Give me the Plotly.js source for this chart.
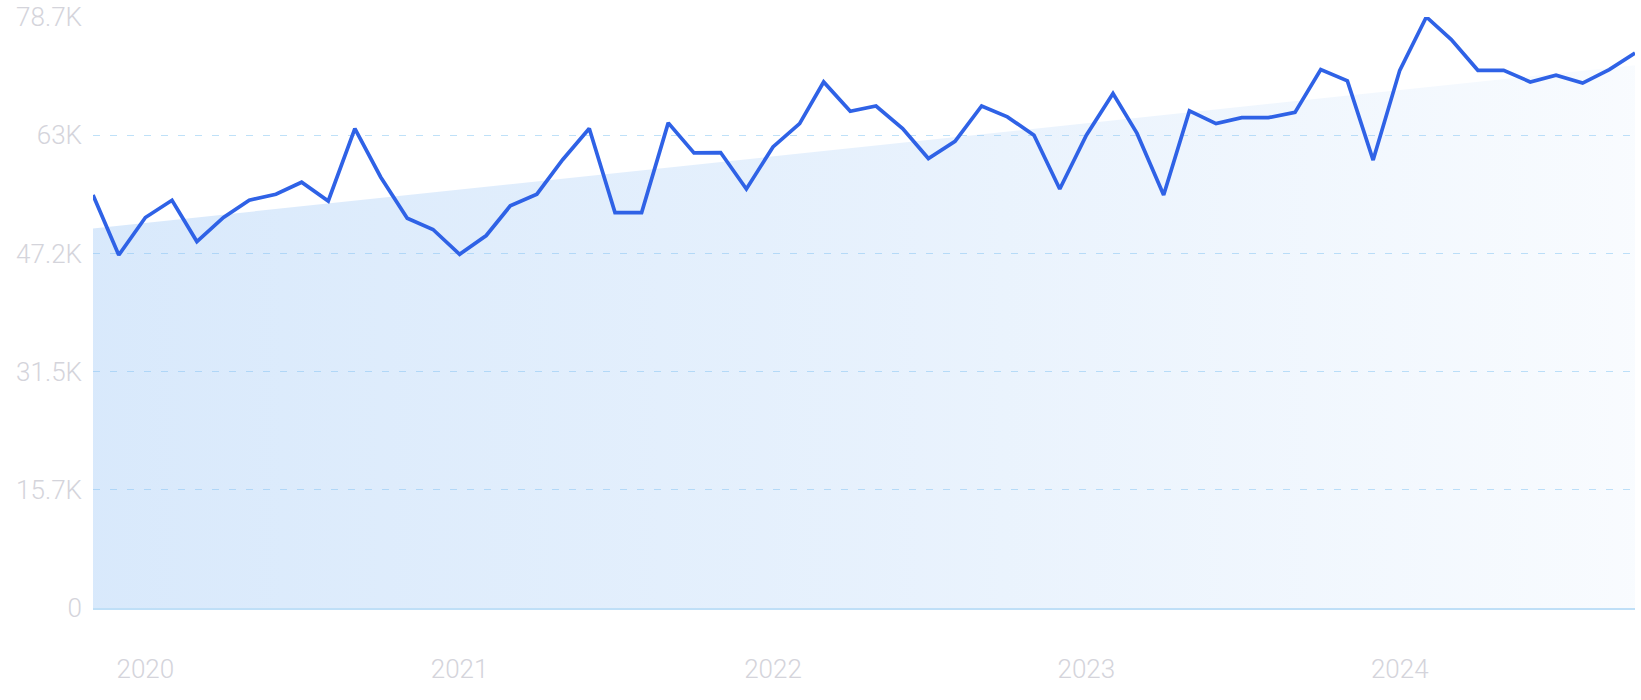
<!DOCTYPE html>
<html>
<head>
<meta charset="utf-8">
<script src="https://cdn.plot.ly/plotly-3.0.1.min.js"></script>
<style>
  html, body { margin: 0; padding: 0; background: #ffffff; }
  #chart { width: 1641px; height: 700px; }
</style>
</head>
<body>
<div id="chart"></div>
<script>
// Monthly dates (Nov 2019 – Oct 2024)
const months = [
  "2019-11-01","2019-12-01",
  "2020-01-01","2020-02-01","2020-03-01","2020-04-01","2020-05-01","2020-06-01","2020-07-01","2020-08-01","2020-09-01","2020-10-01","2020-11-01","2020-12-01",
  "2021-01-01","2021-02-01","2021-03-01","2021-04-01","2021-05-01","2021-06-01","2021-07-01","2021-08-01","2021-09-01","2021-10-01","2021-11-01","2021-12-01",
  "2022-01-01","2022-02-01","2022-03-01","2022-04-01","2022-05-01","2022-06-01","2022-07-01","2022-08-01","2022-09-01","2022-10-01","2022-11-01","2022-12-01",
  "2023-01-01","2023-02-01","2023-03-01","2023-04-01","2023-05-01","2023-06-01","2023-07-01","2023-08-01","2023-09-01","2023-10-01","2023-11-01","2023-12-01",
  "2024-01-01","2024-02-01","2024-03-01","2024-04-01","2024-05-01","2024-06-01","2024-07-01","2024-08-01","2024-09-01","2024-10-01"
];

// Search volume
const volume = [
  55000, 47000,
  52000, 54300, 48800, 52000, 54300, 55100, 56700, 54200, 63850, 57400, 51900, 50400,
  47100, 49600, 53550, 55100, 59700, 63850, 52650, 52650, 64600, 60600, 60650, 55800,
  61400, 64500, 70050, 66150, 66850, 63850, 59850, 62150, 66850, 65400, 62950, 55800,
  62950, 68500, 63200, 55000, 66200, 64500, 65300, 65300, 66000, 71700, 70200, 59650,
  71600, 78700, 75700, 71600, 71600, 70050, 70950, 69900, 71700, 73900
];

// Trend line (start / end)
const trendDates = ["2019-11-01", "2024-10-01"];
const trendValues = [50550, 72280];

// Axis ticks
const yTickVals = [0, 15740, 31480, 47220, 62960, 78700];
const yTickText = ["0", "15.7K", "31.5K", "47.2K", "63K", "78.7K"];
const xTickVals = ["2020-01-01", "2021-01-01", "2022-01-01", "2023-01-01", "2024-01-01"];
const xTickText = ["2020", "2021", "2022", "2023", "2024"];

const trendTrace = {
  type: "scatter",
  mode: "lines",
  x: trendDates,
  y: trendValues,
  fill: "tozeroy",
  line: { width: 0, color: "rgba(0,0,0,0)" },
  fillcolor: "rgba(150,195,245,0.25)",
  fillgradient: {
    type: "horizontal",
    colorscale: [
      [0, "rgba(145,192,245,0.35)"],
      [0.5, "rgba(145,192,245,0.22)"],
      [1, "rgba(145,192,245,0.06)"]
    ]
  },
  hoverinfo: "skip",
  showlegend: false
};

const lineTrace = {
  type: "scatter",
  mode: "lines",
  x: months,
  y: volume,
  line: { color: "#2f62e6", width: 3.7, shape: "linear" },
  cliponaxis: false,
  hoverinfo: "skip",
  showlegend: false
};

const tickFont = { family: "Roboto, 'Open Sans', sans-serif", size: 26, color: "#d4d4db", weight: 300 };

const layout = {
  width: 1641,
  height: 700,
  margin: { l: 93, r: 6, t: 17, b: 92, pad: 0 },
  paper_bgcolor: "#ffffff",
  plot_bgcolor: "#ffffff",
  showlegend: false,
  xaxis: {
    type: "date",
    range: [months[0], months[months.length - 1]],
    tickvals: xTickVals,
    ticktext: xTickText,
    tickfont: tickFont,
    showgrid: false,
    zeroline: false,
    showline: true,
    linecolor: "#bfdff7",
    linewidth: 1.6,
    ticks: "",
    ticklabelstandoff: 37,
    fixedrange: true
  },
  yaxis: {
    range: [0, 78700],
    tickvals: yTickVals,
    ticktext: yTickText,
    tickfont: tickFont,
    showgrid: true,
    gridcolor: "#bfe1f8",
    gridwidth: 1.3,
    griddash: "7px,10px",
    zeroline: false,
    showline: false,
    ticks: "",
    ticklabelstandoff: 10,
    fixedrange: true
  }
};

Plotly.newPlot("chart", [trendTrace, lineTrace], layout, { displayModeBar: false, staticPlot: true });
</script>
</body>
</html>
